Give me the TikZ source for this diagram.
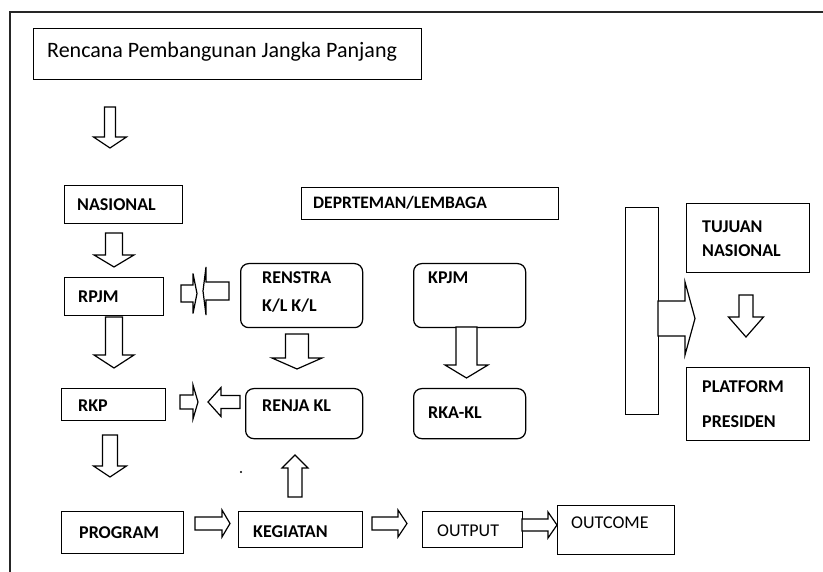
\documentclass[tikz,border=0pt]{standalone}
\usepackage{fontspec}
\setmainfont{Carlito}
\usetikzlibrary{calc}

\tikzset{
  frame/.style={line width=1.6pt, draw=black!85},
  box/.style={draw, line width=1.25pt},
  rbox/.style={box, rounded corners=8pt},
  blk/.style={draw, line width=1.2pt, fill=white, line join=miter},
  lbl/.style={anchor=base west, inner sep=0pt, font=\fontsize{18}{20}\selectfont\bfseries},
  lblr/.style={anchor=base west, inner sep=0pt, font=\fontsize{18}{20}\selectfont},
}

% box: name, style, x1, y1, x2, y2 (top-left / bottom-right corners)
\newcommand\bx[6]{\node[#2, anchor=north west, inner sep=0pt,
  minimum width={(#5-#3)*1pt}, minimum height={(#6-#4)*1pt}] (#1) at (#3,#4) {};}

% block arrows: name, axis position, tail, tip, shaft half width, head half width, head length
\newcommand\arrD[7]{\coordinate (#1-tail) at (#2,#3); \coordinate (#1-tip) at (#2,#4);
  \draw[blk] ($(#1-tail)+(-#5,0)$) -- ($(#1-tip)+(-#5,-#7)$) -- ($(#1-tip)+(-#6,-#7)$) -- (#1-tip)
    -- ($(#1-tip)+(#6,-#7)$) -- ($(#1-tip)+(#5,-#7)$) -- ($(#1-tail)+(#5,0)$) -- cycle;}
\newcommand\arrU[7]{\coordinate (#1-tail) at (#2,#3); \coordinate (#1-tip) at (#2,#4);
  \draw[blk] ($(#1-tail)+(-#5,0)$) -- ($(#1-tip)+(-#5,#7)$) -- ($(#1-tip)+(-#6,#7)$) -- (#1-tip)
    -- ($(#1-tip)+(#6,#7)$) -- ($(#1-tip)+(#5,#7)$) -- ($(#1-tail)+(#5,0)$) -- cycle;}
\newcommand\arrR[7]{\coordinate (#1-tail) at (#3,#2); \coordinate (#1-tip) at (#4,#2);
  \draw[blk] ($(#1-tail)+(0,-#5)$) -- ($(#1-tip)+(-#7,-#5)$) -- ($(#1-tip)+(-#7,-#6)$) -- (#1-tip)
    -- ($(#1-tip)+(-#7,#6)$) -- ($(#1-tip)+(-#7,#5)$) -- ($(#1-tail)+(0,#5)$) -- cycle;}
\newcommand\arrL[7]{\coordinate (#1-tail) at (#3,#2); \coordinate (#1-tip) at (#4,#2);
  \draw[blk] ($(#1-tail)+(0,-#5)$) -- ($(#1-tip)+(#7,-#5)$) -- ($(#1-tip)+(#7,-#6)$) -- (#1-tip)
    -- ($(#1-tip)+(#7,#6)$) -- ($(#1-tip)+(#7,#5)$) -- ($(#1-tail)+(0,#5)$) -- cycle;}

\begin{document}
\begin{tikzpicture}[x=1pt, y=-1pt]
\useasboundingbox[fill=white] (0,0) rectangle (823,572);

% outer frame (top and left edges)
\draw[frame] (823,12) -- (10,12) -- (10,572);

% boxes
\bx{title}{box}{33}{28}{421}{79}
\bx{nas}{box}{64}{185}{182}{223}
\bx{dep}{box}{301}{187}{558}{219}
\bx{rpjm}{box}{64}{277}{163}{315}
\bx{renstra}{rbox}{240}{263}{362}{327}
\bx{kpjm}{rbox}{413}{263}{525}{327}
\bx{rkp}{box}{61}{388}{165}{420}
\bx{renja}{rbox}{245}{388}{362}{438}
\bx{rka}{rbox}{413}{388}{525}{438}
\bx{bar}{box}{625}{207}{658}{414}
\bx{tujuan}{box}{686}{203}{809}{272}
\bx{platform}{box}{686}{367}{809}{440}
\bx{program}{box}{61}{511}{183}{553}
\bx{kegiatan}{box}{238}{511}{362}{547}
\bx{output}{box}{422}{511}{522}{547}
\bx{outcome}{box}{557}{505}{674}{554}

% labels
\node[lblr, font=\fontsize{22}{24}\selectfont] (t-title) at (47,58) {Rencana Pembangunan Jangka Panjang};
\node[lbl] (t-nas) at (77,211) {NASIONAL};
\node[lbl, font=\fontsize{17.5}{20}\selectfont\bfseries] (t-dep) at (313,209) {DEPRTEMAN/LEMBAGA};
\node[lbl] (t-rpjm) at (78,303) {RPJM};
\node[lbl] (t-renstra1) at (262,284) {RENSTRA};
\node[lbl] (t-renstra2) at (262,312) {K/L K/L};
\node[lbl] (t-kpjm) at (428,284) {KPJM};
\node[lbl] (t-rkp) at (78,411) {RKP};
\node[lbl] (t-renja) at (262,411) {RENJA KL};
\node[lbl] (t-rka) at (428,418) {RKA-KL};
\node[lbl] (t-tujuan1) at (702,233) {TUJUAN};
\node[lbl] (t-tujuan2) at (702,257) {NASIONAL};
\node[lbl] (t-plat1) at (702,393) {PLATFORM};
\node[lbl] (t-plat2) at (702,428) {PRESIDEN};
\node[lbl] (t-program) at (79,538) {PROGRAM};
\node[lbl] (t-kegiatan) at (253,537) {KEGIATAN};
\node[lblr] (t-output) at (437,536) {OUTPUT};
\node[lblr] (t-outcome) at (571,528) {OUTCOME};

% vertical block arrows
\arrD{a1}{110}{107}{148}{5.5}{16.5}{11}
\arrD{a2}{114}{233}{267}{8.5}{20}{12}
\arrD{a3}{114}{317}{368}{8.5}{20}{13}
\arrD{a4}{110}{435}{477}{7.5}{16.5}{11}
\arrD{a5}{297}{334}{369}{11.5}{25}{11}
\arrD{a6}{466.5}{327}{378}{10.5}{21.5}{13}
\arrU{a7}{295}{497}{455}{7}{13}{13}
\arrD{a8}{746}{295}{337}{7}{17.5}{20}

% horizontal block arrows
\arrR{r1}{293.5}{181}{197}{8.5}{20}{4}
\arrL{l1}{291}{229}{203}{9}{24}{3}
\arrR{r2}{402}{180}{198}{7}{17}{5}
\arrL{l2}{402}{240}{208}{6.5}{14.5}{13}
\arrR{r3}{523.5}{195}{230}{6.5}{13.5}{8}
\arrR{r4}{523.5}{372}{407}{6.5}{13.5}{9}
\arrR{r5}{525}{522}{557}{6}{13}{9}
\arrR{r6}{318.5}{658}{695}{17.5}{36.5}{10}

% stray mark
\fill (241,472) circle (1.1pt);
\end{tikzpicture}
\end{document}
